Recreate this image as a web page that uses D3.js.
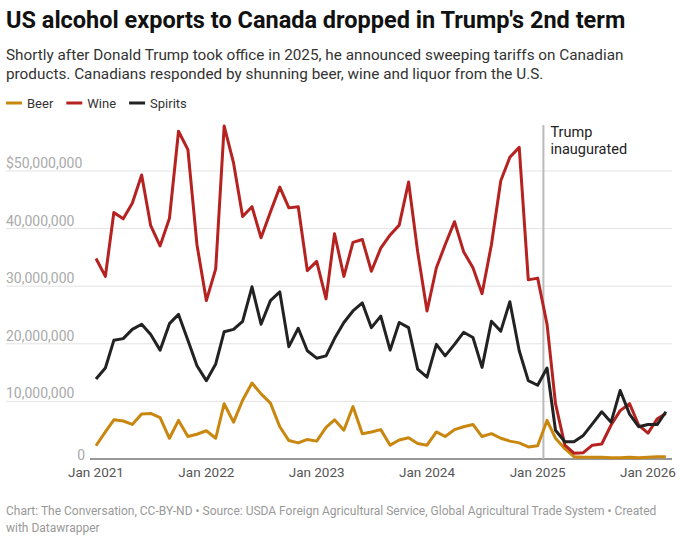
<!DOCTYPE html>
<html><head><meta charset="utf-8">
<script src="https://cdn.jsdelivr.net/npm/d3@7.9.0/dist/d3.min.js"></script>
<style>
body{margin:0;background:#fff;font-family:Roboto,"Noto Sans",sans-serif;}
</style></head>
<body><svg id="c" width="680" height="538"></svg>
<script>
// monthly values in millions of USD, Jan 2021 onward
const wine = [34.8,31.7,42.8,41.7,44.4,49.3,40.5,37.0,41.8,56.9,53.7,37.2,27.5,33.0,57.8,51.4,42.1,43.8,38.4,42.9,47.2,43.6,43.8,32.7,34.3,27.8,39.1,31.7,37.6,38.1,32.6,36.6,38.9,40.6,48.1,36.0,25.7,33.2,37.2,41.2,36.0,33.2,28.7,37.2,48.3,52.4,54.1,31.1,31.4,23.4,9.6,2.4,1.0,1.1,2.4,2.6,5.9,8.4,9.6,5.9,4.5,7.0,7.9];
const spirits = [13.9,15.8,20.6,20.9,22.5,23.4,21.6,18.9,23.5,25.1,20.6,16.2,13.6,16.5,22.1,22.5,23.9,29.9,23.4,27.5,29.0,19.5,22.7,18.8,17.5,17.9,20.9,23.7,25.7,27.1,22.8,24.8,18.9,23.7,22.8,15.6,14.2,19.9,17.9,19.9,22.0,21.1,15.9,23.9,22.2,27.3,18.8,13.6,12.8,15.8,5.0,3.0,3.0,4.1,6.1,8.2,6.4,11.9,7.8,5.6,6.0,6.0,8.2];
const beer = [2.3,4.7,6.8,6.6,6.0,7.8,7.9,7.2,3.6,6.7,3.9,4.3,4.9,3.6,9.6,6.4,10.2,13.2,11.3,9.7,5.6,3.2,2.8,3.4,3.1,5.5,6.8,5.0,9.1,4.4,4.7,5.1,2.4,3.3,3.7,2.7,2.4,4.7,3.9,5.1,5.6,6.0,3.9,4.4,3.6,3.1,2.8,2.1,2.3,6.7,3.6,1.8,0.4,0.3,0.3,0.3,0.2,0.2,0.3,0.2,0.3,0.4,0.4];
const yTicks = [0,10,20,30,40,50];
const xTicks = [2021,2022,2023,2024,2025,2026];
const seriesNames = ["Beer","Wine","Spirits"];
const seriesColors = ["#c9870f","#b52220","#222222"];

const svg = d3.select("#c");
const months = wine.map((_, i) => new Date(2021, i, 1));
const x = d3.scaleTime().domain([new Date(2021,0,1), new Date(2026,0,1)]).range([96, 648]);
const y = d3.scaleLinear().domain([0,50]).range([459,171]);

svg.append("text").attr("x",6).attr("y",28).attr("font-size",23.5).attr("font-weight",700).attr("fill","#111")
  .text("US alcohol exports to Canada dropped in Trump's 2nd term");
svg.append("text").attr("x",6).attr("y",60).attr("font-size",15.3).attr("fill","#333")
  .text("Shortly after Donald Trump took office in 2025, he announced sweeping tariffs on Canadian");
svg.append("text").attr("x",6).attr("y",79).attr("font-size",15.3).attr("fill","#333")
  .text("products. Canadians responded by shunning beer, wine and liquor from the U.S.");

// legend
let lx = 6;
seriesNames.forEach((n, i) => {
  svg.append("line").attr("x1",lx).attr("x2",lx+16).attr("y1",103).attr("y2",103)
    .attr("stroke",seriesColors[i]).attr("stroke-width",3);
  const t = svg.append("text").attr("x",lx+21).attr("y",107.5).attr("font-size",13).attr("fill","#333").text(n);
  lx += 21 + t.node().getComputedTextLength() + 13;
});

// grid + y labels
yTicks.forEach(v => {
  if (v > 0) svg.append("line").attr("x1",6).attr("x2",672).attr("y1",y(v)).attr("y2",y(v))
    .attr("stroke","#e3e3e3").attr("stroke-width",1);
  svg.append("text").attr("x", v === 0 ? 85 : 6).attr("y", y(v) + (v === 0 ? 1 : -3)).attr("font-size",14)
    .attr("text-anchor", v === 0 ? "end" : "start").attr("fill","#aaa")
    .text(v === 0 ? "0" : (v === 50 ? "$" : "") + d3.format(",")(v*1e6));
});
svg.append("line").attr("x1",90).attr("x2",672).attr("y1",459).attr("y2",459).attr("stroke","#333").attr("stroke-width",1.2);

xTicks.forEach(yr => {
  svg.append("text").attr("x",x(new Date(yr,0,1))).attr("y",477).attr("text-anchor","middle")
    .attr("font-size",13.5).attr("fill","#555").text("Jan " + yr);
});

// inauguration marker
const tx = x(new Date(2025,0,20));
svg.append("line").attr("x1",tx).attr("x2",tx).attr("y1",125).attr("y2",459).attr("stroke","#bbb").attr("stroke-width",2);
svg.append("text").attr("x",tx+7).attr("y",137).attr("font-size",14.5).attr("fill","#222").text("Trump");
svg.append("text").attr("x",tx+7).attr("y",154).attr("font-size",14.5).attr("fill","#222").text("inaugurated");

const line = d3.line().x((d, i) => x(months[i])).y(d => y(d));
[beer, wine, spirits].forEach((s, i) => {
  svg.append("path").datum(s).attr("d", line).attr("fill","none")
    .attr("stroke", seriesColors[i]).attr("stroke-width",3).attr("stroke-linejoin","round");
});

svg.append("text").attr("x",6).attr("y",515).attr("font-size",12).attr("fill","#999")
  .text("Chart: The Conversation, CC-BY-ND • Source: USDA Foreign Agricultural Service, Global Agricultural Trade System • Created");
svg.append("text").attr("x",6).attr("y",532).attr("font-size",12).attr("fill","#999").text("with Datawrapper");
</script></body></html>
